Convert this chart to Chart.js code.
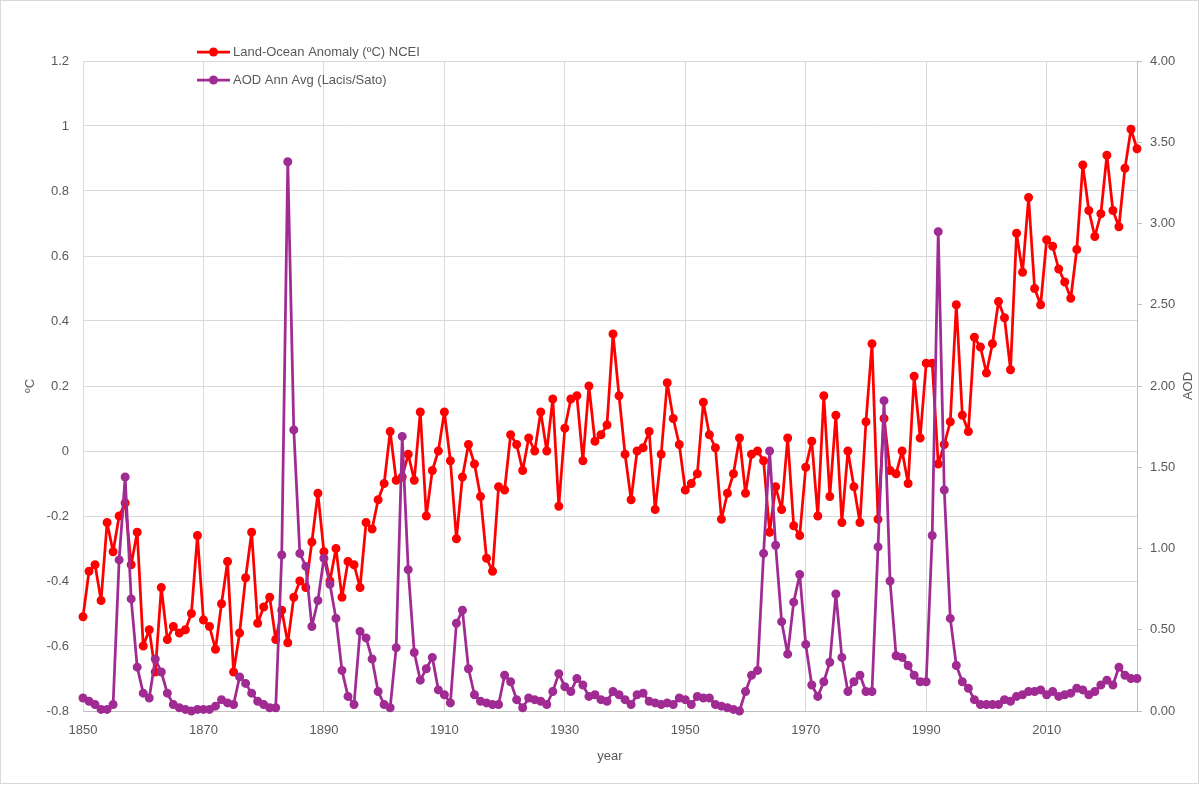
<!DOCTYPE html>
<html><head><meta charset="utf-8">
<script src="https://cdn.jsdelivr.net/npm/chart.js@4.4.1/dist/chart.umd.min.js"></script>
<style>html,body{margin:0;padding:0;background:#fff;}#wrap{position:relative;width:1200px;height:785px;}canvas{display:block;}</style>
</head><body><div id="wrap"><canvas id="c" width="1200" height="785"></canvas></div>
<script>
const years = [1850,1851,1852,1853,1854,1855,1856,1857,1858,1859,1860,1861,1862,1863,1864,1865,1866,1867,1868,1869,
1870,1871,1872,1873,1874,1875,1876,1877,1878,1879,1880,1881,1882,1883,1884,1885,1886,1887,1888,1889,
1890,1891,1892,1893,1894,1895,1896,1897,1898,1899,1900,1901,1902,1903,1904,1905,1906,1907,1908,1909,
1910,1911,1912,1913,1914,1915,1916,1917,1918,1919,1920,1921,1922,1923,1924,1925,1926,1927,1928,1929,
1930,1931,1932,1933,1934,1935,1936,1937,1938,1939,1940,1941,1942,1943,1944,1945,1946,1947,1948,1949,
1950,1951,1952,1953,1954,1955,1956,1957,1958,1959,1960,1961,1962,1963,1964,1965,1966,1967,1968,1969,
1970,1971,1972,1973,1974,1975,1976,1977,1978,1979,1980,1981,1982,1983,1984,1985,1986,1987,1988,1989,
1990,1991,1992,1993,1994,1995,1996,1997,1998,1999,2000,2001,2002,2003,2004,2005,2006,2007,2008,2009,
2010,2011,2012,2013,2014,2015,2016,2017,2018,2019,2020,2021,2022,2023,2024,2025];

const landOcean = [-0.51,-0.37,-0.35,-0.46,-0.22,-0.31,-0.20,-0.16,-0.35,-0.25,-0.60,-0.55,-0.68,-0.42,-0.58,-0.54,-0.56,-0.55,-0.50,-0.26,
-0.52,-0.54,-0.61,-0.47,-0.34,-0.68,-0.56,-0.39,-0.25,-0.53,-0.48,-0.45,-0.58,-0.49,-0.59,-0.45,-0.40,-0.42,-0.28,-0.13,
-0.31,-0.40,-0.30,-0.45,-0.34,-0.35,-0.42,-0.22,-0.24,-0.15,-0.10,0.06,-0.09,-0.08,-0.01,-0.09,0.12,-0.20,-0.06,0.00,
0.12,-0.03,-0.27,-0.08,0.02,-0.04,-0.14,-0.33,-0.37,-0.11,-0.12,0.05,0.02,-0.06,0.04,0.00,0.12,0.00,0.16,-0.17,
0.07,0.16,0.17,-0.03,0.20,0.03,0.05,0.08,0.36,0.17,-0.01,-0.15,0.00,0.01,0.06,-0.18,-0.01,0.21,0.10,0.02,
-0.12,-0.10,-0.07,0.15,0.05,0.01,-0.21,-0.13,-0.07,0.04,-0.13,-0.01,0.00,-0.03,-0.25,-0.11,-0.18,0.04,-0.23,-0.26,
-0.05,0.03,-0.20,0.17,-0.14,0.11,-0.22,0.00,-0.11,-0.22,0.09,0.33,-0.21,0.10,-0.06,-0.07,0.00,-0.10,0.23,0.04,
0.27,0.27,-0.04,0.02,0.09,0.45,0.11,0.06,0.35,0.32,0.24,0.33,0.46,0.41,0.25,0.67,0.55,0.78,0.50,0.45,
0.65,0.63,0.56,0.52,0.47,0.62,0.88,0.74,0.66,0.73,0.91,0.74,0.69,0.87,0.99,0.93];

const aod = [0.08,0.06,0.04,0.01,0.01,0.04,0.93,1.44,0.69,0.27,0.11,0.08,0.32,0.24,0.11,0.04,0.02,0.01,0.00,0.01,
0.01,0.01,0.03,0.07,0.05,0.04,0.21,0.17,0.11,0.06,0.04,0.02,0.02,0.96,3.38,1.73,0.97,0.89,0.52,0.68,
0.94,0.78,0.57,0.25,0.09,0.04,0.49,0.45,0.32,0.12,0.04,0.02,0.39,1.69,0.87,0.36,0.19,0.26,0.33,0.13,
0.10,0.05,0.54,0.62,0.26,0.10,0.06,0.05,0.04,0.04,0.22,0.18,0.07,0.02,0.08,0.07,0.06,0.04,0.12,0.23,
0.15,0.12,0.20,0.16,0.09,0.10,0.07,0.06,0.12,0.10,0.07,0.04,0.10,0.11,0.06,0.05,0.04,0.05,0.04,0.08,
0.07,0.04,0.09,0.08,0.08,0.04,0.03,0.02,0.01,0.00,0.12,0.22,0.25,0.97,1.60,1.02,0.55,0.35,0.67,0.84,
0.41,0.16,0.09,0.18,0.30,0.72,0.33,0.12,0.18,0.22,0.12,0.12,1.01,1.91,0.80,0.34,0.33,0.28,0.22,0.18,
0.18,1.08,2.95,1.36,0.57,0.28,0.18,0.14,0.07,0.04,0.04,0.04,0.04,0.07,0.06,0.09,0.10,0.12,0.12,0.13,
0.10,0.12,0.09,0.10,0.11,0.14,0.13,0.10,0.12,0.16,0.19,0.16,0.27,0.22,0.20,0.20];

const xTickYears = [1850,1870,1890,1910,1930,1950,1970,1990,2010];
const seriesNames = ['Land-Ocean Anomaly (ºC) NCEI','AOD Ann Avg (Lacis/Sato)'];
const seriesColors = ['#FF0000','#A02B93'];
const titleX = 'year', titleLeft = 'ºC', titleRight = 'AOD';

const FONT = '"Liberation Sans", Arial, sans-serif';
const TXT = '#595959';
const GRID = '#d9d9d9';
const AXIS = '#bfbfbf';

const overlay = {
  id: 'overlay',
  afterDraw(chart) {
    const ctx = chart.ctx, a = chart.chartArea;
    ctx.save();
    ctx.strokeStyle = GRID; ctx.lineWidth = 1;
    ctx.strokeRect(0.5, 0.5, 1198, 783);
    ctx.fillStyle = TXT;
    ctx.font = '13px ' + FONT;
    ctx.textAlign = 'center'; ctx.textBaseline = 'middle';
    ctx.fillText(titleX, (a.left + a.right) / 2, 756);
    ctx.save(); ctx.translate(30, (a.top + a.bottom) / 2); ctx.rotate(-Math.PI / 2);
    ctx.fillText(titleLeft, 0, 0); ctx.restore();
    ctx.save(); ctx.translate(1188, (a.top + a.bottom) / 2); ctx.rotate(-Math.PI / 2);
    ctx.fillText(titleRight, 0, 0); ctx.restore();
    const rows = [52, 80];
    seriesNames.forEach((n, i) => {
      const y = rows[i];
      ctx.strokeStyle = seriesColors[i]; ctx.lineWidth = 2.75;
      ctx.beginPath(); ctx.moveTo(197, y); ctx.lineTo(230, y); ctx.stroke();
      ctx.fillStyle = seriesColors[i];
      ctx.beginPath(); ctx.arc(213.5, y, 4.5, 0, Math.PI * 2); ctx.fill();
      ctx.fillStyle = TXT; ctx.textAlign = 'left';
      ctx.fillText(n, 233, y + 0.5);
    });
    ctx.restore();
  }
};

const lineStyle = c => ({
  borderColor: c, backgroundColor: c, pointBackgroundColor: c, pointBorderColor: c,
  borderWidth: 2.75, pointRadius: 3.75, pointBorderWidth: 1.5,
  borderJoinStyle: 'round', borderCapStyle: 'round', clip: false, tension: 0
});

new Chart(document.getElementById('c'), {
  type: 'line',
  data: {
    datasets: [
      Object.assign({ label: seriesNames[0], data: years.map((yr, i) => ({ x: yr, y: landOcean[i] })),
        yAxisID: 'y', order: 1 }, lineStyle(seriesColors[0])),
      Object.assign({ label: seriesNames[1], data: years.map((yr, i) => ({ x: yr, y: aod[i] })),
        yAxisID: 'y1', order: 0 }, lineStyle(seriesColors[1]))
    ]
  },
  options: {
    responsive: false, animation: false, devicePixelRatio: 1,
    layout: { padding: { top: 61, left: 0, right: 0, bottom: 0 } },
    plugins: { legend: { display: false }, tooltip: { enabled: false }, title: { display: false } },
    scales: {
      x: {
        type: 'linear', min: 1850, max: 2025,
        afterBuildTicks: s => { s.ticks = xTickYears.map(v => ({ value: v })); },
        afterFit: s => { s.height = 74; },
        ticks: { color: TXT, font: { family: FONT, size: 13 }, padding: 12, maxRotation: 0, autoSkip: false, callback: v => String(v) },
        grid: { color: GRID, drawTicks: false, lineWidth: 1 },
        border: { display: true, color: AXIS, width: 1 }
      },
      y: {
        position: 'left', min: -0.8, max: 1.2,
        afterFit: s => { s.width = 83; },
        ticks: { stepSize: 0.2, color: TXT, font: { family: FONT, size: 13 }, padding: 14,
          callback: v => String(Math.round(v * 10) / 10) },
        grid: { color: GRID, drawTicks: false, lineWidth: 1 },
        border: { display: false }
      },
      y1: {
        position: 'right', min: 0, max: 4,
        afterFit: s => { s.width = 63; },
        ticks: { stepSize: 0.5, color: TXT, font: { family: FONT, size: 13 }, padding: 8,
          callback: v => Number(v).toFixed(2) },
        grid: { drawOnChartArea: false, drawTicks: true, tickLength: 5, color: AXIS },
        border: { display: true, color: AXIS, width: 1 }
      }
    }
  },
  plugins: [overlay]
});
</script></body></html>
